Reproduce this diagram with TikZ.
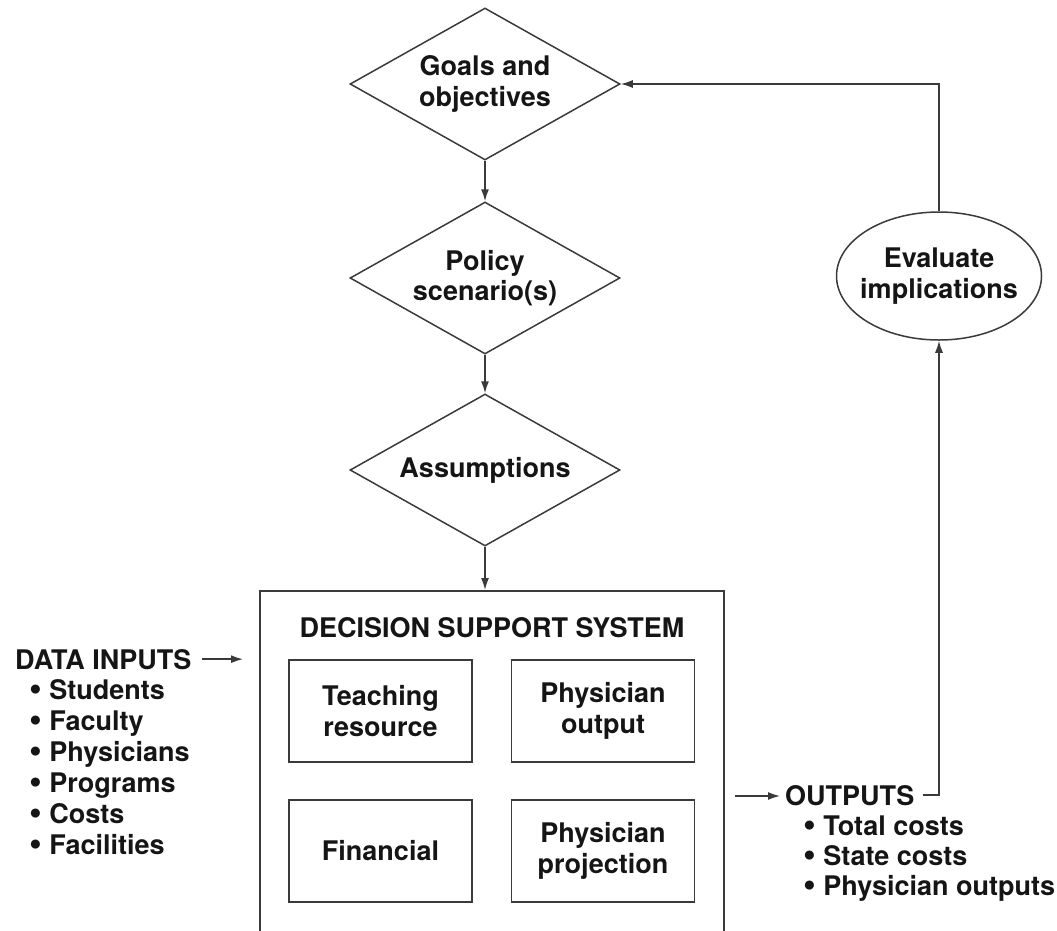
\documentclass[tikz,border=0pt]{standalone}
\usepackage{fontspec}
\setmainfont{TeX Gyre Heros}
\usetikzlibrary{shapes.geometric,arrows.meta}
\definecolor{linegray}{HTML}{3A3A3A}
\definecolor{inkblack}{HTML}{151515}
\newcommand{\itembullet}{\smash{\raisebox{-0.06em}{\scalebox{1.35}{\textbullet}}}\ }
\begin{document}
\begin{tikzpicture}[x=1pt,y=-1pt,
  every node/.style={font=\fontsize{27}{30.5}\selectfont\bfseries, text=inkblack, inner sep=0pt},
  ln/.style={line width=1.5pt, draw=linegray},
  arr/.style={ln, -{Latex[length=12pt,width=8pt]}},
  decision/.style={diamond, ln, aspect=1.78, minimum width=270pt, minimum height=152pt, align=center},
  module/.style={rectangle, ln, minimum width=183pt, minimum height=102pt, align=center},
  % a multi-line node's base anchor sits on its last line
  itemlist/.style={anchor=base west, align=left}]
\begin{scope}
  \clip (0,0) rectangle (1057,930);
  % planning chain
  \node[decision] (goals)  at (485,84)  {Goals and\\objectives};
  \node[decision] (policy) at (485,278) {Policy\\scenario(s)};
  \node[decision] (assume) at (485,470) {Assumptions};
  % evaluation
  \node[ellipse, ln, minimum width=205pt, minimum height=128pt] (eval) at (939,276) {};
  \node[align=center] (evaltext) at (eval.center) {Evaluate\\implications};
  % decision support system (runs past the lower edge)
  \node[rectangle, ln, minimum width=464pt, minimum height=400pt, anchor=north] (dss) at (492,590) {};
  \node (dsstitle) at (492,628) {DECISION SUPPORT SYSTEM};
  \node[module] (teach) at (380.5,711) {Teaching\\resource};
  \node[module] (physout) at (603,711) {Physician\\output};
  \node[module] (fin) at (380.5,851) {Financial};
  \node[module] (physproj) at (603,851) {Physician\\projection};
  % data inputs
  \node[anchor=base west] (datain) at (15,669) {DATA INPUTS};
  \node[itemlist, font=\fontsize{27}{31}\selectfont\bfseries] (inlist) at (29,854)
    {\itembullet Students\\\itembullet Faculty\\\itembullet Physicians\\
     \itembullet Programs\\\itembullet Costs\\\itembullet Facilities};
  \coordinate (datatip) at (243,660);
  \draw[arr, shorten <=10pt] (datain.east) -- (datain.east -| datatip);
  % outputs
  \node[anchor=base west] (outhead) at (785,805) {OUTPUTS};
  \node[itemlist, font=\fontsize{27}{30}\selectfont\bfseries] (outlist) at (803,895)
    {\itembullet Total costs\\\itembullet State costs\\\itembullet Physician outputs};
  \coordinate (outtail) at (735,796);
  \draw[arr, shorten >=5pt] (outtail) -- (outtail -| outhead.west);
  % connectors
  \draw[arr] (goals) -- (policy);
  \draw[arr] (policy) -- (assume);
  \draw[arr] (assume) -- (assume.south |- dss.north);
  \draw[arr, shorten <=8pt] (outhead.east) -| (eval.south);
  \draw[arr] (eval.north) |- (goals.east);
\end{scope}
\pgfresetboundingbox
\useasboundingbox (0,0) rectangle (1057,930);
\end{tikzpicture}
\end{document}
